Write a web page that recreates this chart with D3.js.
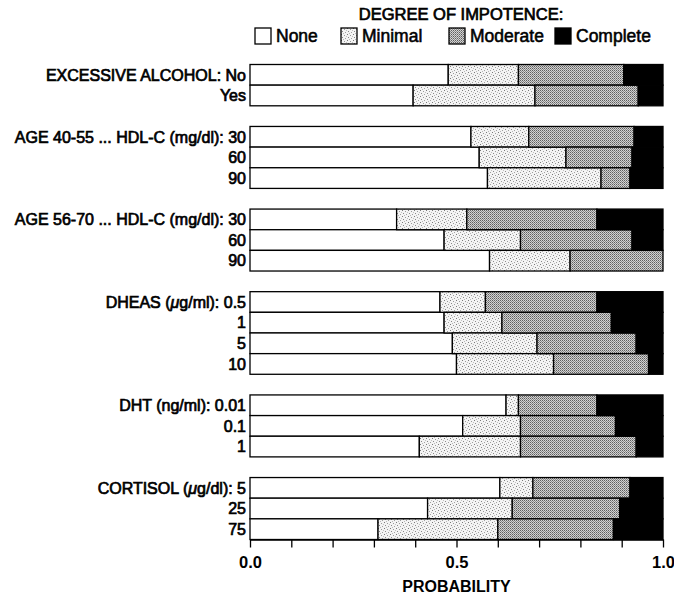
<!DOCTYPE html>
<html><head><meta charset="utf-8">
<script src="https://cdn.jsdelivr.net/npm/d3@7"></script>
<style>
body{margin:0;background:#fff}
text{font-family:"Liberation Sans",Arial,Helvetica,sans-serif;fill:#000}
</style>
</head><body>
<svg id="chart" width="674" height="604"></svg>
<script>
// ---- data ----
const groupLabels = [
  "EXCESSIVE ALCOHOL:",
  "AGE 40-55 ... HDL-C (mg/dl):",
  "AGE 56-70 ... HDL-C (mg/dl):",
  "DHEAS (μg/ml):",
  "DHT (ng/ml):",
  "CORTISOL (μg/dl):"
];
const rowGroup = [0,0, 1,1,1, 2,2,2, 3,3,3,3, 4,4,4, 5,5,5];
const rowLevel = ["No","Yes", "30","60","90", "30","60","90", "0.5","1","5","10", "0.01","0.1","1", "5","25","75"];
const seriesNames = ["None","Minimal","Moderate","Complete"];
const none     = [0.48,0.395, 0.535,0.555,0.575, 0.355,0.47,0.58, 0.46,0.47,0.49,0.50, 0.62,0.515,0.41, 0.605,0.43,0.31];
const minimal  = [0.17,0.295, 0.14,0.21,0.275,   0.17,0.185,0.195, 0.11,0.14,0.205,0.235, 0.03,0.14,0.245, 0.08,0.205,0.29];
const moderate = [0.255,0.25, 0.255,0.16,0.07,   0.315,0.27,0.225, 0.27,0.265,0.24,0.23, 0.19,0.23,0.28, 0.235,0.26,0.28];
const complete = [0.095,0.06, 0.07,0.075,0.08,   0.16,0.075,0.0,   0.16,0.125,0.065,0.035, 0.16,0.115,0.065, 0.08,0.105,0.12];
const tickValues = [0,0.1,0.2,0.3,0.4,0.5,0.6,0.7,0.8,0.9,1.0];
const tickLabels = {0:"0.0",0.5:"0.5",1:"1.0"};
const legendTitle = "DEGREE OF IMPOTENCE:";
const axisTitle = "PROBABILITY";

// ---- build table ----
const table = rowLevel.map((lv,i)=>({
  key:"r"+i, i, group:rowGroup[i], level:lv,
  None:none[i], Minimal:minimal[i], Moderate:moderate[i], Complete:complete[i]
}));
const slots = [];
table.forEach((d,i)=>{
  if(i>0 && rowGroup[i]!==rowGroup[i-1]) slots.push("gap"+i);
  slots.push(d.key);
});

const svg = d3.select("#chart");
const x = d3.scaleLinear().domain([0,1]).range([250,663]);
const y = d3.scaleBand().domain(slots).range([64.5,539.5]).padding(0);

// patterns (stipple)
const defs = svg.append("defs");
const p1 = defs.append("pattern").attr("id","pMin").attr("patternUnits","userSpaceOnUse").attr("width",6).attr("height",6);
p1.append("rect").attr("width",6).attr("height",6).attr("fill","#f4f4f4");
[[0,0,"#7a7a7a"],[3,1,"#9a9a9a"],[1,3,"#8a8a8a"],[4,4,"#a0a0a0"],[5,2,"#c0c0c0"],[2,5,"#b8b8b8"]].forEach(([a,b,c])=>
  p1.append("rect").attr("x",a).attr("y",b).attr("width",1).attr("height",1).attr("fill",c));
const p2 = defs.append("pattern").attr("id","pMod").attr("patternUnits","userSpaceOnUse").attr("width",2).attr("height",2);
p2.append("rect").attr("width",2).attr("height",2).attr("fill","#d2d2d2");
p2.append("rect").attr("x",0).attr("y",0).attr("width",1).attr("height",1).attr("fill","#5e5e5e");
p2.append("rect").attr("x",1).attr("y",1).attr("width",1).attr("height",1).attr("fill","#8a8a8a");

const fills = {None:"#ffffff",Minimal:"url(#pMin)",Moderate:"url(#pMod)",Complete:"#000000"};

const stack = d3.stack().keys(seriesNames);
const layers = stack(table);

svg.append("g").selectAll("g").data(layers).join("g")
  .attr("fill",d=>fills[d.key])
  .selectAll("rect").data(d=>d.filter(s=>s[1]-s[0]>0)).join("rect")
  .attr("x",d=>x(d[0]))
  .attr("width",d=>x(d[1])-x(d[0]))
  .attr("y",d=>y(d.data.key))
  .attr("height",y.bandwidth())
  .attr("stroke","#000").attr("stroke-width",1.3);

// row labels
const lab = svg.append("g").selectAll("text").data(table).join("text")
  .attr("x",246)
  .attr("y",d=>y(d.key)+y.bandwidth()/2)
  .attr("dy","0.36em")
  .attr("text-anchor","end")
  .attr("font-size",16)
  .attr("stroke","#000").attr("stroke-width",0.7);
lab.each(function(d,i){
  const t = d3.select(this);
  const first = i===0 || rowGroup[i]!==rowGroup[i-1];
  const txt = first ? groupLabels[d.group]+" "+d.level : d.level;
  const parts = txt.split("μ");
  parts.forEach((p,k)=>{
    if(k>0) t.append("tspan").attr("font-style","italic").text("μ");
    t.append("tspan").text(p);
  });
});

// axis
const axis = d3.axisBottom(x).tickValues(tickValues).tickSize(8).tickSizeOuter(0)
  .tickFormat(d=>tickLabels[+d.toFixed(1)]||"");
const ag = svg.append("g").attr("transform","translate(0,539.5)").call(axis);
ag.attr("font-size",16.5);
ag.select(".domain").attr("stroke","#000").attr("stroke-width",1.3);
ag.selectAll(".tick line").attr("stroke","#000").attr("stroke-width",1.3);
ag.selectAll(".tick text").attr("y",23).attr("dy","0.36em")
  .attr("font-size",16.5).attr("font-weight","bold").attr("font-family","Liberation Sans, Arial, sans-serif")
  .attr("fill","#000");

svg.append("text").attr("x",x(0.5)).attr("y",586).attr("dy","0.36em")
  .attr("text-anchor","middle").attr("font-size",16).attr("font-weight","bold")
  .text(axisTitle);

// legend
svg.append("text").attr("x",461).attr("y",14).attr("dy","0.36em")
  .attr("text-anchor","middle").attr("font-size",16.5)
  .attr("stroke","#000").attr("stroke-width",0.7).text(legendTitle);
const legendX = [255,341,449,555];
const lg = svg.append("g").selectAll("g").data(seriesNames).join("g")
  .attr("transform",(d,i)=>`translate(${legendX[i]},28)`);
lg.append("rect").attr("width",16).attr("height",16)
  .attr("fill",d=>fills[d]).attr("stroke","#000").attr("stroke-width",1.3);
lg.append("text").attr("x",21).attr("y",8).attr("dy","0.36em")
  .attr("font-size",17.5).attr("stroke","#000").attr("stroke-width",0.55).text(d=>d);
</script>
</body></html>
